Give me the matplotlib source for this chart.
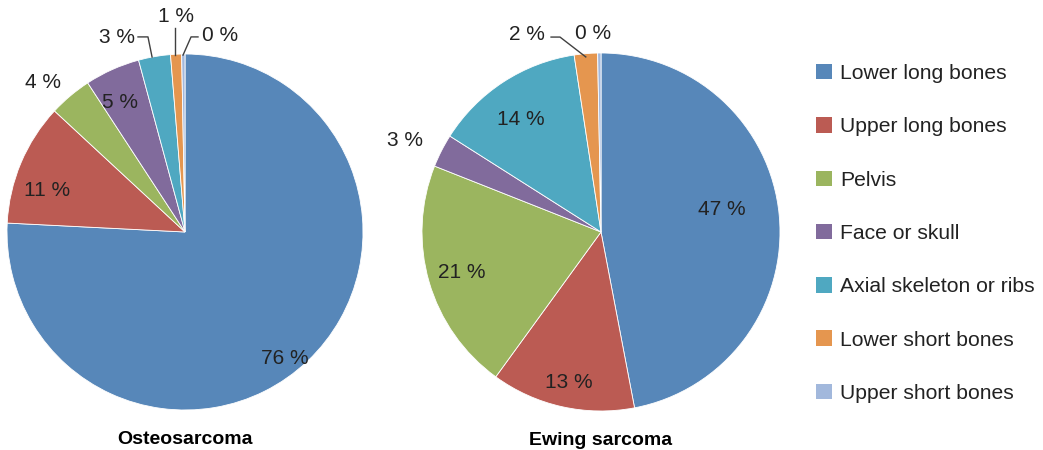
import matplotlib
matplotlib.use("Agg")
import matplotlib.pyplot as plt
from matplotlib.patches import Patch

plt.rcParams['font.family'] = ['Liberation Sans', 'DejaVu Sans']

categories = ["Lower long bones", "Upper long bones", "Pelvis", "Face or skull",
              "Axial skeleton or ribs", "Lower short bones", "Upper short bones"]
osteo_values = [75.8, 11.1, 3.9, 5.0, 2.9, 1.0, 0.3]
osteo_labels = ["76 %", "11 %", "4 %", "5 %", "3 %", "1 %", "0 %"]
ewing_values = [47.0, 13.0, 21.0, 3.0, 13.6, 2.1, 0.3]
ewing_labels = ["47 %", "13 %", "21 %", "3 %", "14 %", "2 %", "0 %"]
titles = ["Osteosarcoma", "Ewing sarcoma"]

colors = ["#5787b9", "#bb5b53", "#9bb55f", "#816b9c", "#4fa8c1", "#e5964f", "#a2b8dc"]
text_col = "#222222"
line_col = "#404040"

# label positions in pie units (radius 1) and optional leader lines
osteo_pos = [(0.56, -0.70), (-0.775, 0.247), (-0.80, 0.85), (-0.365, 0.74),
             (-0.38, 1.107), (-0.05, 1.225), (0.197, 1.118)]
osteo_lead = {4: [(-0.264, 1.096), (-0.208, 1.096), (-0.185, 0.983)],
              5: [(-0.056, 1.146), (-0.056, 0.994)],
              6: [(0.073, 1.096), (0.034, 1.096), (-0.011, 0.994)]}
ewing_pos = [(0.676, 0.14), (-0.179, -0.827), (-0.777, -0.212), (-1.095, 0.525),
             (-0.447, 0.642), (-0.413, 1.117), (-0.045, 1.123)]
ewing_lead = {5: [(-0.279, 1.089), (-0.229, 1.089), (-0.085, 0.978)]}

W, H = 1043, 450
fig = plt.figure(figsize=(W / 100, H / 100), dpi=100)


def draw(cx, cy, r, values, labels, pos, lead, title):
    lim = 1.4
    ax = fig.add_axes([(cx - lim * r) / W, (H - cy - lim * r) / H,
                       2 * lim * r / W, 2 * lim * r / H])
    ax.pie(values, colors=colors, startangle=90, counterclock=False,
           wedgeprops=dict(edgecolor="white", linewidth=0.6))
    ax.set_xlim(-lim, lim)
    ax.set_ylim(-lim, lim)
    ax.set_aspect("equal")
    ax.axis("off")
    for lab, (x, y) in zip(labels, pos):
        ax.text(x, y - 0.012, lab, ha="center", va="center", fontsize=15, color=text_col)
    for pts in lead.values():
        xs, ys = zip(*pts)
        ax.plot(xs, ys, color=line_col, lw=1.0)
    ax.text(0, -1.165, title, ha="center", va="center", fontsize=14,
            fontweight="bold", color="black")


draw(185, 232, 178, osteo_values, osteo_labels, osteo_pos, osteo_lead, titles[0])
draw(601, 232, 179, ewing_values, ewing_labels, ewing_pos, ewing_lead, titles[1])

handles = [Patch(facecolor=c, edgecolor="none") for c in colors]
fig.legend(handles, categories, loc="upper left", bbox_to_anchor=(797 / W, 1 - 45 / H),
           frameon=False, fontsize=15.2, handlelength=0.75, handleheight=0.75,
           handletextpad=0.4, labelspacing=1.62, labelcolor=text_col)

fig.savefig("out.png", dpi=100)
